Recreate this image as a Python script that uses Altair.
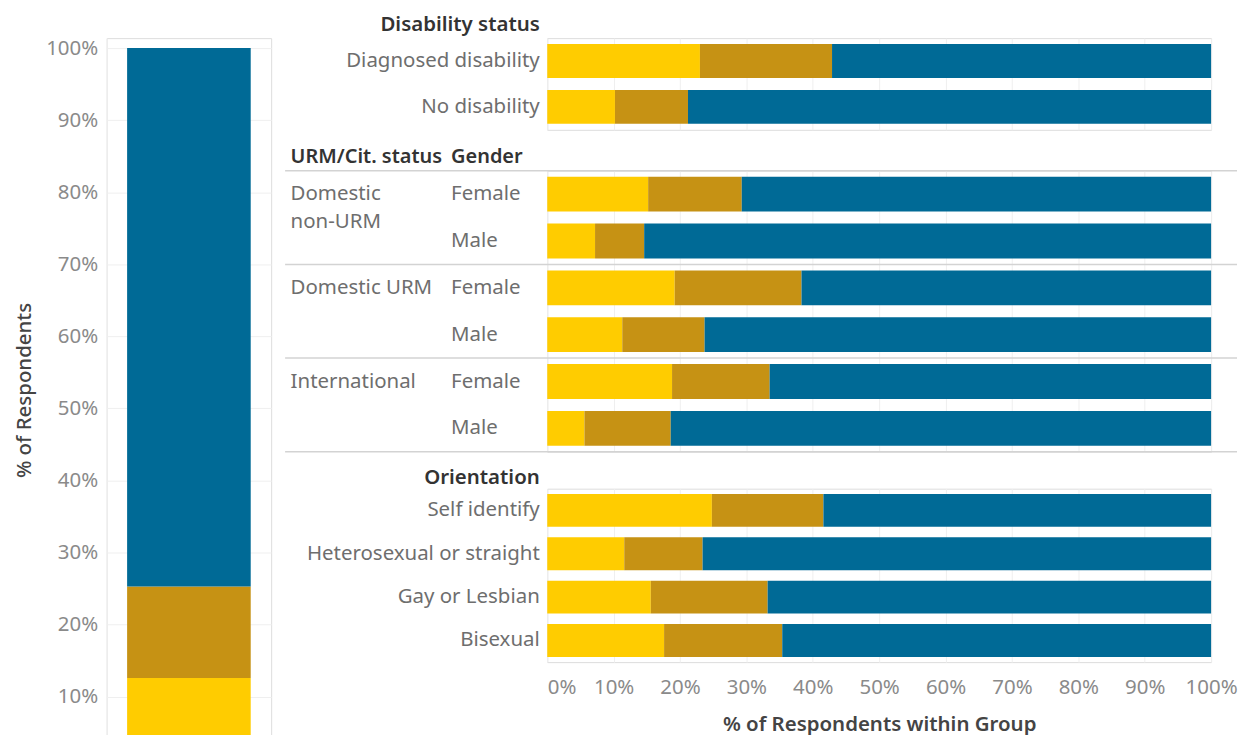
import altair as alt
import pandas as pd

# ---------------- data ----------------
series = ["Response 1", "Response 2", "Response 3"]
series_colors = ["#FFCC00", "#C69214", "#006A96"]

overall_values = [12.6, 12.7, 74.7]

disability_rows = ["Diagnosed disability", "No disability"]
disability_r1 = [23.0, 10.2]
disability_r2 = [19.9, 11.0]
disability_r3 = [57.1, 78.8]

urm_groups = ["Domestic non-URM", "Domestic non-URM", "Domestic URM", "Domestic URM",
              "International", "International"]
urm_genders = ["Female", "Male", "Female", "Male", "Female", "Male"]
urm_r1 = [15.2, 7.2, 19.2, 11.3, 18.8, 5.6]
urm_r2 = [14.1, 7.4, 19.1, 12.4, 14.7, 13.0]
urm_r3 = [70.7, 85.4, 61.7, 76.3, 66.5, 81.4]

orientation_rows = ["Self identify", "Heterosexual or straight", "Gay or Lesbian", "Bisexual"]
orientation_r1 = [24.8, 11.6, 15.6, 17.6]
orientation_r2 = [16.8, 11.8, 17.6, 17.8]
orientation_r3 = [58.4, 76.6, 66.8, 64.6]

pct_ticks = [0, 10, 20, 30, 40, 50, 60, 70, 80, 90, 100]
left_ticks = [10, 20, 30, 40, 50, 60, 70, 80, 90, 100]

FONT = "Noto Sans"
LABEL = "#6e6e6e"
TICK = "#8a8a8a"
HEAD = "#333333"
GRID = "#efefef"
SEP = "#d3d3d3"
FS = 20.5
HS = 20


def long_df(rows, r1, r2, r3):
    recs = []
    for i, row in enumerate(rows):
        for k, vals in enumerate([r1, r2, r3]):
            recs.append({"row": row, "series": series[k], "order": k, "value": vals[i]})
    return pd.DataFrame(recs)


color_enc = alt.Color("series:N", scale=alt.Scale(domain=series, range=series_colors), legend=None)
order_enc = alt.Order("order:Q")

# ---------------- left overall bar ----------------
left_df = pd.DataFrame({"all": ["All"] * 3, "series": series, "order": [0, 1, 2],
                        "value": overall_values})
left = alt.Chart(left_df).mark_bar(size=124).encode(
    x=alt.X("all:N", axis=None, scale=alt.Scale(paddingInner=0, paddingOuter=0)),
    y=alt.Y("value:Q", stack="zero",
            scale=alt.Scale(domain=[0, 101.38], nice=False),
            axis=alt.Axis(values=left_ticks, labelExpr="datum.value + '%'",
                          title="% of Respondents", grid=True, gridColor=GRID,
                          domain=True, domainColor=GRID, ticks=False, labelPadding=9,
                          labelFontSize=FS, labelColor=TICK, titleFontSize=FS,
                          titleFontWeight=500, titleColor="#444444",
                          titleX=-82, titleY=353, titleAngle=-90, titleBaseline="middle")),
    color=color_enc,
    order=order_enc,
).properties(width=165, height=733)


def x_axis(show):
    if show:
        return alt.Axis(values=pct_ticks, labelExpr="datum.value + '%'",
                        labelAlign=alt.expr("datum.value == 0 ? 'left' : 'center'"),
                        grid=True, gridColor=GRID, ticks=False, domain=False,
                        labelColor=TICK, labelFontSize=FS, labelPadding=15,
                        title="% of Respondents within Group", titleFontSize=FS,
                        titleFontWeight=600, titleColor="#444444", titlePadding=17)
    return alt.Axis(values=pct_ticks, labels=False, ticks=False, domain=False, grid=True,
                    gridColor=GRID, title=None)


X_SCALE = alt.Scale(domain=[0, 100], nice=False)

# ---------------- panel 1 : disability ----------------
dis_df = long_df(disability_rows, disability_r1, disability_r2, disability_r3)
panel1 = alt.Chart(dis_df).mark_bar(size=34).encode(
    x=alt.X("value:Q", stack="zero", scale=X_SCALE, axis=x_axis(False)),
    y=alt.Y("row:N", scale=alt.Scale(domain=disability_rows, paddingInner=0, paddingOuter=0),
            axis=alt.Axis(title="Disability status", labelPadding=8, ticks=False, domain=False,
                          labelColor=LABEL, labelFontSize=FS, labelLimit=0,
                          titleAngle=0, titleAlign="right", titleBaseline="middle",
                          titleX=-8, titleY=-14, titleFontSize=FS, titleFontWeight=600,
                          titleColor=HEAD)),
    color=color_enc,
    order=order_enc,
).properties(width=666, height=92)

# ---------------- panel 2 : URM / gender ----------------
urm_keys = [g + "|" + s for g, s in zip(urm_groups, urm_genders)]
urm_df = long_df(urm_keys, urm_r1, urm_r2, urm_r3)
Y2_SCALE = alt.Scale(domain=urm_keys, paddingInner=0, paddingOuter=0)

urm_bars = alt.Chart(urm_df).mark_bar(size=35).encode(
    x=alt.X("value:Q", stack="zero", scale=X_SCALE, axis=x_axis(False)),
    y=alt.Y("row:N", scale=Y2_SCALE,
            axis=alt.Axis(title="Gender", labelExpr="split(datum.value, '|')[1]",
                          labelAlign="left", labelPadding=97, ticks=False, domain=False,
                          labelColor=LABEL, labelFontSize=FS,
                          titleAngle=0, titleAlign="left", titleBaseline="middle",
                          titleX=-97, titleY=-14, titleFontSize=HS, titleFontWeight=600,
                          titleColor=HEAD)),
    color=color_enc,
    order=order_enc,
)

first_keys = [k for i, k in enumerate(urm_keys) if i == 0 or urm_groups[i] != urm_groups[i - 1]]
last_keys = [urm_keys[-1]]
sep_top_df = pd.DataFrame({"row": first_keys})
sep_bot_df = pd.DataFrame({"row": last_keys})

group_label_expr = ("split(datum.value, '|')[0] == 'Domestic non-URM' ? ['Domestic', 'non-URM'] "
                    ": split(datum.value, '|')[0]")

sep_top = alt.Chart(sep_top_df).mark_rule(color=SEP, strokeWidth=1.5).encode(
    y=alt.Y("row:N", scale=Y2_SCALE, bandPosition=0,
            axis=alt.Axis(orient="left", values=first_keys, labelExpr=group_label_expr,
                          labelAlign="left", labelPadding=258, labelBaseline="top",
                          labelOffset=-10, ticks=False, domain=False,
                          labelColor=LABEL, labelFontSize=FS, labelLimit=0,
                          title="URM/Cit. status",
                          titleAngle=0, titleAlign="left", titleBaseline="middle",
                          titleX=-258, titleY=-14, titleFontSize=HS, titleFontWeight=600,
                          titleColor=HEAD)),
    x=alt.value(-263),
    x2=alt.value(692),
)
sep_bot = alt.Chart(sep_bot_df).mark_rule(color=SEP, strokeWidth=1.5).encode(
    y=alt.Y("row:N", scale=Y2_SCALE, bandPosition=1, axis=None),
    x=alt.value(-263),
    x2=alt.value(692),
)

panel2 = alt.layer(urm_bars, sep_top, sep_bot).resolve_axis(y="independent").properties(
    width=666, height=282)

# ---------------- panel 3 : orientation ----------------
ori_df = long_df(orientation_rows, orientation_r1, orientation_r2, orientation_r3)
panel3 = alt.Chart(ori_df).mark_bar(size=33).encode(
    x=alt.X("value:Q", stack="zero", scale=X_SCALE, axis=x_axis(True)),
    y=alt.Y("row:N", scale=alt.Scale(domain=orientation_rows, paddingInner=0, paddingOuter=0),
            axis=alt.Axis(title="Orientation", labelPadding=8, ticks=False, domain=False,
                          labelColor=LABEL, labelFontSize=FS, labelLimit=0,
                          titleAngle=0, titleAlign="right", titleBaseline="middle",
                          titleX=-8, titleY=-11, titleFontSize=FS, titleFontWeight=600,
                          titleColor=HEAD)),
    color=color_enc,
    order=order_enc,
).properties(width=666, height=174)

right = alt.vconcat(alt.vconcat(panel1, panel2, spacing=15), panel3, spacing=13)

chart = alt.hconcat(left, right, spacing=11).properties(
    padding={"left": 6, "top": 4, "right": 0, "bottom": 0}
).configure_view(stroke="transparent").configure_axis(
    labelFont=FONT, titleFont=FONT
).configure(font=FONT, style={"guide-label": {"lineHeight": 28}})

chart.save("out.html", embed_options={"renderer": "svg", "actions": False})
